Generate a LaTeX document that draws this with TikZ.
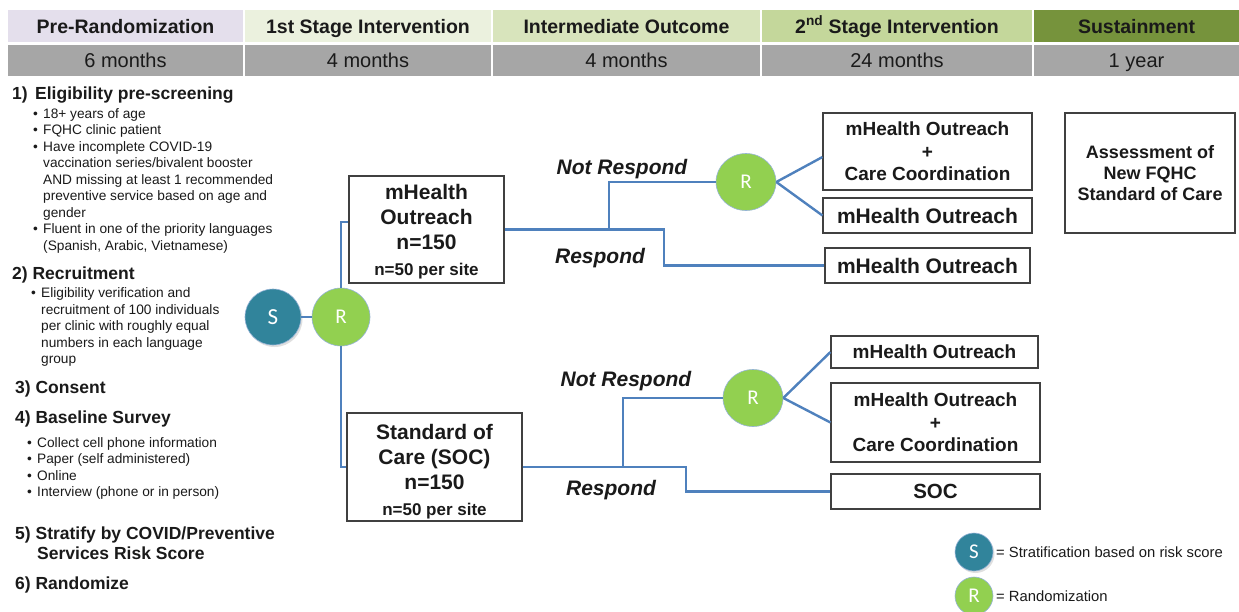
\documentclass[tikz,border=0pt]{standalone}
\usepackage{fontspec}
\setmainfont{Liberation Sans}
\newfontfamily\carl{Carlito}
\usetikzlibrary{shadows,shapes.geometric}
\definecolor{hdA}{HTML}{E4DFEC}
\definecolor{hdB}{HTML}{EBF1DE}
\definecolor{hdC}{HTML}{D8E4BC}
\definecolor{hdD}{HTML}{C4D79B}
\definecolor{hdE}{HTML}{76933C}
\definecolor{hdG}{HTML}{A6A6A6}
\definecolor{lnblue}{HTML}{4F81BD}
\definecolor{rgreen}{HTML}{92D050}
\definecolor{steal}{HTML}{31849B}
\definecolor{txtd}{HTML}{1A1A1A}
\begin{document}
\begin{tikzpicture}[x=1pt,y=-1pt,
  hcell/.style={inner sep=0, minimum height=32pt, text height=14pt, text depth=0pt, font=\fontsize{19.5}{22}\selectfont\bfseries, text=txtd},
  gcell/.style={inner sep=0, minimum height=31pt, text height=14.5pt, text depth=0pt, fill=hdG, font=\fontsize{20}{22}\selectfont, text=txtd},
  bx/.style={draw=black!75, line width=1.1pt, fill=white, inner sep=0, align=center, text=txtd},
  conn/.style={draw=lnblue, line width=2.4pt},
  rnd/.style={circle, fill=rgreen, draw=lnblue!60, line width=0.6pt, text=white, font=\carl\fontsize{21}{21}\selectfont, inner sep=0, minimum size=58pt},
  rnde/.style={ellipse, fill=rgreen, draw=lnblue!60, line width=0.6pt, text=white, font=\carl\fontsize{21}{21}\selectfont, inner sep=0, minimum width=60pt, minimum height=57pt},
  snd/.style={circle, fill=steal, draw=lnblue!60, line width=0.6pt, text=white, font=\carl\fontsize{23}{23}\selectfont, inner sep=0, minimum size=56pt, drop shadow={opacity=0.25, shadow xshift=1.5pt, shadow yshift=-2pt}},
  hd/.style={anchor=base west, inner sep=0, font=\fontsize{17.5}{20}\selectfont\bfseries, text=txtd},
  bl/.style={anchor=base west, inner sep=0, font=\fontsize{13.7}{16}\selectfont, text=txtd},
  lab/.style={inner sep=0, font=\fontsize{21}{24}\selectfont\bfseries\itshape, text=txtd}
]
\useasboundingbox (0,0) rectangle (1239,611);
\fill[white] (0,0) rectangle (1239,611);

% header row 1
\node[hcell, fill=hdA, minimum width=235pt] (h1) at (125.5,26) {Pre-Randomization};
\node[hcell, fill=hdB, minimum width=246pt] (h2) at (368,26) {1st Stage Intervention};
\node[hcell, fill=hdC, minimum width=267pt] (h3) at (626.5,26) {Intermediate Outcome};
\node[hcell, fill=hdD, minimum width=270pt] (h4) at (897,26) {2\textsuperscript{nd} Stage Intervention};
\node[hcell, fill=hdE, minimum width=205pt] (h5) at (1136.5,26) {Sustainment};
% header row 2
\node[gcell, minimum width=235pt] (g1) at (125.5,60) {6 months};
\node[gcell, minimum width=246pt] (g2) at (368,60) {4 months};
\node[gcell, minimum width=267pt] (g3) at (626.5,60) {4 months};
\node[gcell, minimum width=270pt] (g4) at (897,60) {24 months};
\node[gcell, minimum width=205pt] (g5) at (1136.5,60) {1 year};

% left column headings
\node[hd] (t1a) at (12,99.3) {1)};
\node[hd] (t1) at (35,99.3) {Eligibility pre-screening};
\node[hd] (t2) at (12,279.3) {2) Recruitment};
\node[hd] (t3) at (15,393.3) {3) Consent};
\node[hd] (t4) at (15,423.3) {4) Baseline Survey};
\node[hd] (t5) at (15,539.3) {5) Stratify by COVID/Preventive};
\node[hd] (t5b) at (37,559.3) {Services Risk Score};
\node[hd] (t6) at (15,589.3) {6) Randomize};

% bullets group 1
\foreach \yy/\txt [count=\i] in {113/{18+ years of age},129/{FQHC clinic patient},146/{Have incomplete COVID-19},162/{vaccination series/bivalent booster},179/{AND missing at least 1 recommended},195/{preventive service based on age and},212/{gender},228/{Fluent in one of the priority languages},245/{(Spanish, Arabic, Vietnamese)}}
  \node[bl] (pa\i) at (43,\yy+5) {\txt};
\foreach \yy [count=\i] in {113,129,146,228}
  \node[bl] (ba\i) at (33,\yy+5) {•};
% bullets group 2
\foreach \yy/\txt [count=\i] in {292/{Eligibility verification and},309/{recruitment of 100 individuals},325/{per clinic with roughly equal},342/{numbers in each language},358/{group}}
  \node[bl] (pb\i) at (41,\yy+5) {\txt};
\node[bl] (bb1) at (31,297) {•};
% bullets group 4
\foreach \yy/\txt [count=\i] in {442/{Collect cell phone information},458/{Paper (self administered)},475/{Online},491/{Interview (phone or in person)}}
  {\node[bl] (pc\i) at (37,\yy+5) {\txt};
   \node[bl] (bc\i) at (27,\yy+5) {•};}

% circles
\node[snd] (S) at (273,317) {S};
\node[rnd] (R1) at (341,317) {R};
\node[rnde] (R2) at (746,182) {R};
\node[rnde] (R3) at (753,398) {R};

% first stage boxes
\node[bx, minimum width=155pt, minimum height=107pt, font=\fontsize{21}{25.3}\selectfont\bfseries] (A) at (426.5,229.5)
  {\rule{0pt}{19pt}mHealth\\Outreach\\n=150\\{\fontsize{17}{25}\selectfont n=50 per site}};
\node[bx, minimum width=175pt, minimum height=108pt, font=\fontsize{21}{25.3}\selectfont\bfseries] (B) at (434.5,467)
  {\rule{0pt}{24pt}Standard of\\Care (SOC)\\n=150\\{\fontsize{17}{24}\selectfont n=50 per site}};

% second stage boxes
\node[bx, minimum width=209pt, minimum height=77pt, font=\fontsize{19}{22.5}\selectfont\bfseries] (C1) at (927.5,151.5)
  {mHealth Outreach\\+\\Care Coordination};
\node[bx, minimum width=209pt, minimum height=35pt, font=\fontsize{21}{24}\selectfont\bfseries] (C2) at (927.5,215.5) {mHealth Outreach};
\node[bx, minimum width=205pt, minimum height=35pt, font=\fontsize{21}{24}\selectfont\bfseries] (C3) at (927.5,265.5) {mHealth Outreach};
\node[bx, minimum width=207pt, minimum height=32pt, font=\fontsize{19}{22}\selectfont\bfseries] (D1) at (934.5,352) {mHealth Outreach};
\node[bx, minimum width=209pt, minimum height=79pt, font=\fontsize{19}{22.5}\selectfont\bfseries] (D2) at (935.5,422.5)
  {mHealth Outreach\\+\\Care Coordination};
\node[bx, minimum width=209pt, minimum height=35pt, font=\fontsize{20.5}{24}\selectfont\bfseries] (D3) at (935.5,491.5) {SOC};

% sustainment box
\node[bx, minimum width=170pt, minimum height=120pt, font=\fontsize{18}{21}\selectfont\bfseries] (E) at (1150,173)
  {Assessment of\\New FQHC\\Standard of Care};

% junctions
\coordinate (j1) at (609,229.5);
\coordinate (j2) at (623,467);

% connectors
\draw[conn] (S.east) -- (R1.west);
\draw[conn] (R1.north) |- ([yshift=7.5pt]A.west);
\draw[conn] (R1.south) |- (B.west);
\draw[conn] (A.east) -- (j1) |- (R2.west);
\draw[conn] (j1) -- ++(55,0) |- (C3.west);
\draw[conn] (R2.east) -- ([yshift=-5.5pt]C1.west);
\draw[conn] (R2.east) -- (C2.west);
\draw[conn] (B.east) -- (j2) |- (R3.west);
\draw[conn] (j2) -- ++(63,0) |- (D3.west);
\draw[conn] (R3.east) -- (D1.west);
\draw[conn] (R3.east) -- (D2.west);

% labels
\node[lab] (nr1) at (622,169) {Not Respond};
\node[lab] (r1) at (600,258) {Respond};
\node[lab] (nr2) at (626,381) {Not Respond};
\node[lab] (r2) at (611,490) {Respond};

% legend
\node[snd, minimum size=38pt, font=\carl\fontsize{21}{21}\selectfont] (LS) at (974,552) {S};
\node[rnd, minimum size=38pt, font=\carl\fontsize{21}{21}\selectfont] (LR) at (974,596) {R};
\node[inner sep=0, anchor=west, font=\fontsize{14.8}{17}\selectfont, text=txtd] (LSt) at (996,552) {= Stratification based on risk score};
\node[inner sep=0, anchor=west, font=\fontsize{14.8}{17}\selectfont, text=txtd] (LRt) at (996,596) {= Randomization};
\end{tikzpicture}
\end{document}
